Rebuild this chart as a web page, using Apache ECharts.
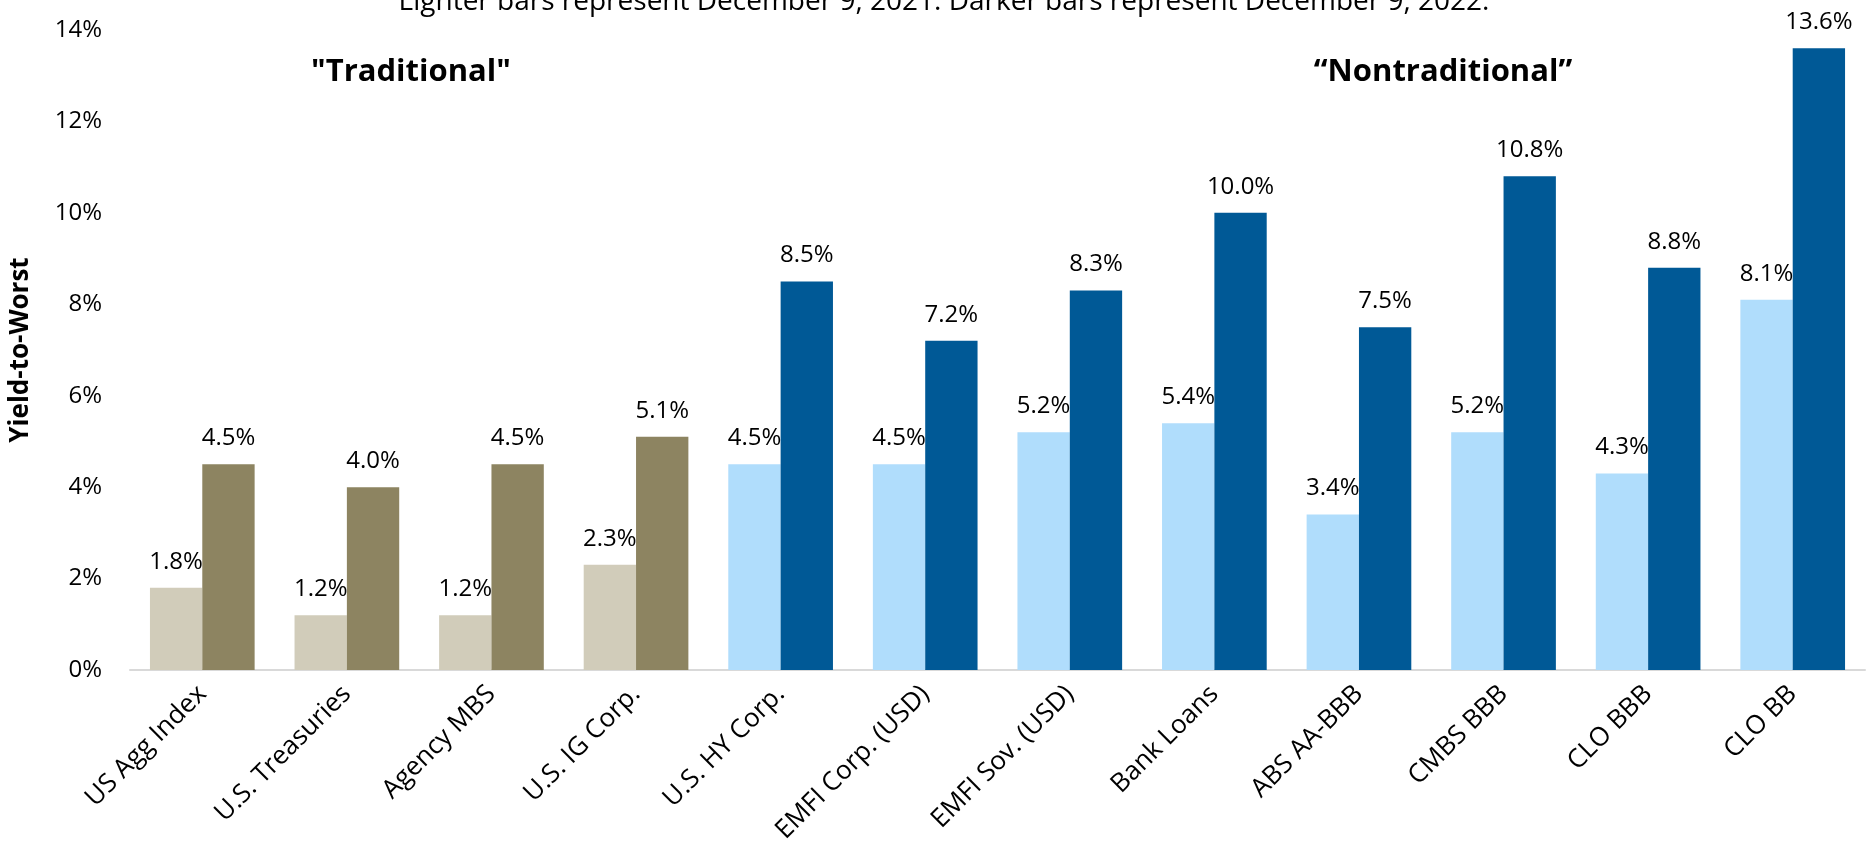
<!DOCTYPE html>
<html>
<head>
<meta charset="utf-8">
<title>Yield-to-Worst</title>
<script src="https://cdn.jsdelivr.net/npm/echarts@6/dist/echarts.min.js"></script>
<style>
  html, body { margin: 0; padding: 0; background: #ffffff; }
  #chart { width: 1870px; height: 850px; }
</style>
</head>
<body>
<div id="chart"></div>
<script>
// Sector names along the x axis
const categories = [
  'US Agg Index', 'U.S. Treasuries', 'Agency MBS', 'U.S. IG Corp.',
  'U.S. HY Corp.', 'EMFI Corp. (USD)', 'EMFI Sov. (USD)', 'Bank Loans',
  'ABS AA-BBB', 'CMBS BBB', 'CLO BBB', 'CLO BB'
];
// Yield-to-worst (%) on December 9, 2021 (lighter bars)
const yield2021 = [1.8, 1.2, 1.2, 2.3, 4.5, 4.5, 5.2, 5.4, 3.4, 5.2, 4.3, 8.1];
// Yield-to-worst (%) on December 9, 2022 (darker bars)
const yield2022 = [4.5, 4.0, 4.5, 5.1, 8.5, 7.2, 8.3, 10.0, 7.5, 10.8, 8.8, 13.6];
// Number of leading categories in the "Traditional" group
const traditionalCount = 4;
// Y-axis range and step (percent)
const yMin = 0, yMax = 14, yStep = 2;

const FONT = '"Open Sans", "Noto Sans", sans-serif';
const colors = {
  tradLight: '#D1CCBA',
  tradDark: '#8D8461',
  nonLight: '#B0DDFC',
  nonDark: '#005996'
};

const chart = echarts.init(document.getElementById('chart'), null, { renderer: 'canvas' });

function labelCfg() {
  return {
    show: true,
    position: 'top',
    distance: 14,
    fontFamily: FONT,
    fontSize: 24,
    color: '#000000',
    formatter: p => p.value.toFixed(1) + '%'
  };
}

chart.setOption({
  animation: false,
  backgroundColor: '#ffffff',
  grid: { left: 127, right: 5, top: 30, bottom: 180, containLabel: false },
  graphic: [
    {
      type: 'text',
      style: {
        text: 'Lighter bars represent December 9, 2021. Darker bars represent December 9, 2022.',
        x: 944, y: 2, align: 'center', verticalAlign: 'middle',
        font: '28px ' + FONT, fill: '#000000'
      }
    },
    {
      type: 'text',
      style: {
        text: '"Traditional"', x: 411, y: 72, align: 'center', verticalAlign: 'middle',
        font: 'bold 31px ' + FONT, fill: '#000000'
      }
    },
    {
      type: 'text',
      style: {
        text: '\u201CNontraditional\u201D', x: 1443, y: 72, align: 'center', verticalAlign: 'middle',
        font: 'bold 31px ' + FONT, fill: '#000000'
      }
    }
  ],
  xAxis: {
    type: 'category',
    data: categories,
    axisLine: { show: true, lineStyle: { color: '#D9D9D9', width: 2 } },
    axisTick: { show: false },
    axisLabel: {
      interval: 0,
      rotate: 45,
      margin: 20,
      fontFamily: FONT,
      fontSize: 26,
      color: '#000000'
    },
    splitLine: { show: false }
  },
  yAxis: {
    type: 'value',
    min: yMin,
    max: yMax,
    interval: yStep,
    name: 'Yield-to-Worst',
    nameLocation: 'middle',
    nameGap: 96,
    nameRotate: 90,
    nameTextStyle: { fontFamily: FONT, fontSize: 26, fontWeight: 'bold', color: '#000000' },
    axisLine: { show: false },
    axisTick: { show: false },
    splitLine: { show: false },
    axisLabel: {
      margin: 28,
      fontFamily: FONT,
      fontSize: 24,
      color: '#000000',
      formatter: '{value}%'
    }
  },
  series: [
    {
      name: 'December 9, 2021',
      type: 'bar',
      data: yield2021,
      barCategoryGap: '27.6%',
      barGap: '0%',
      itemStyle: {
        color: p => (p.dataIndex < traditionalCount ? colors.tradLight : colors.nonLight)
      },
      label: labelCfg()
    },
    {
      name: 'December 9, 2022',
      type: 'bar',
      data: yield2022,
      barCategoryGap: '27.6%',
      barGap: '0%',
      itemStyle: {
        color: p => (p.dataIndex < traditionalCount ? colors.tradDark : colors.nonDark)
      },
      label: labelCfg()
    }
  ]
});
</script>
</body>
</html>
